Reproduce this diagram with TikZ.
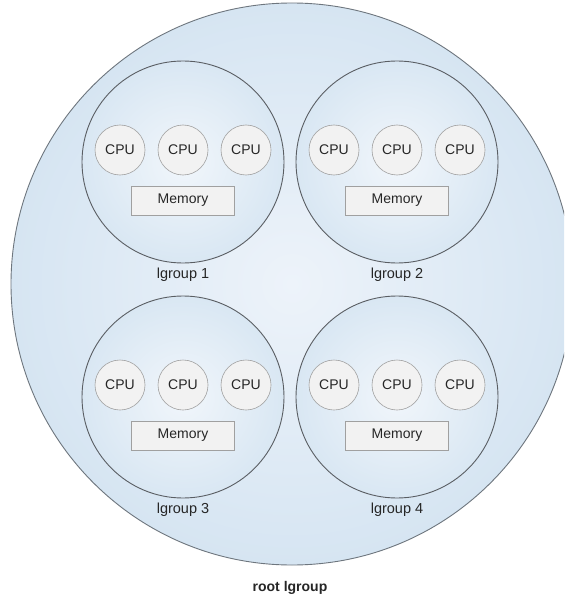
\documentclass[tikz,border=0pt]{standalone}
\usepackage{fontspec}
\setmainfont{Liberation Sans}
\definecolor{rootfill}{HTML}{D6E5F2}
\definecolor{rootlight}{HTML}{EDF3FA}
\definecolor{grpin}{HTML}{F1F6FB}
\definecolor{grpout}{HTML}{D9E7F3}
\definecolor{cpufill}{HTML}{F2F2F2}
\definecolor{boxline}{HTML}{A0A0A0}
\definecolor{grpline}{HTML}{5A5E63}
\definecolor{rootline}{HTML}{6E767E}
\definecolor{txt}{HTML}{262626}
\tikzset{
  grp/.style={circle, draw=grpline, line width=0.9pt, minimum size=202pt, inner sep=0pt, inner color=grpin, outer color=grpout},
  cpu/.style={circle, draw=boxline, line width=0.6pt, fill=cpufill, minimum size=50pt, inner sep=0pt, text=txt, font=\fontsize{14}{16}\selectfont},
  mem/.style={rectangle, draw=boxline, line width=0.6pt, fill=cpufill, minimum width=103pt, minimum height=29pt, inner sep=0pt, text=txt, font=\fontsize{14}{16}\selectfont},
  lbl/.style={text=txt, inner sep=0pt, font=\fontsize{14.5}{16}\selectfont},
  rootlbl/.style={text=txt, inner sep=0pt, font=\bfseries\fontsize{14}{16}\selectfont}
}
\begin{document}
\begin{tikzpicture}[x=1pt, y=-1pt]
\useasboundingbox (0,0) rectangle (564,596);
\fill[white] (0,0) rectangle (564,596);
\begin{scope}
\clip (0,0) rectangle (564,596);
\node[circle, draw=rootline, line width=0.9pt, minimum size=562pt, inner sep=0pt, inner color=rootlight, outer color=rootfill] (root) at (292,284) {};
\end{scope}
\foreach \n/\cx/\cy in {1/183/162, 2/397/162, 3/183/397, 4/397/397}{
  \node[grp] (g\n) at (\cx,\cy) {};
  \node[cpu] (c\n a) at (\cx-63,\cy-12) {CPU};
  \node[cpu] (c\n b) at (\cx,\cy-12) {CPU};
  \node[cpu] (c\n c) at (\cx+63,\cy-12) {CPU};
  \node[mem] (m\n) at (\cx,\cy+38.5) {Memory};
  \node[lbl] (l\n) at (\cx,\cy+113) {lgroup \n};
}
\node[rootlbl] (rl) at (290,588) {root lgroup};
\end{tikzpicture}
\end{document}
